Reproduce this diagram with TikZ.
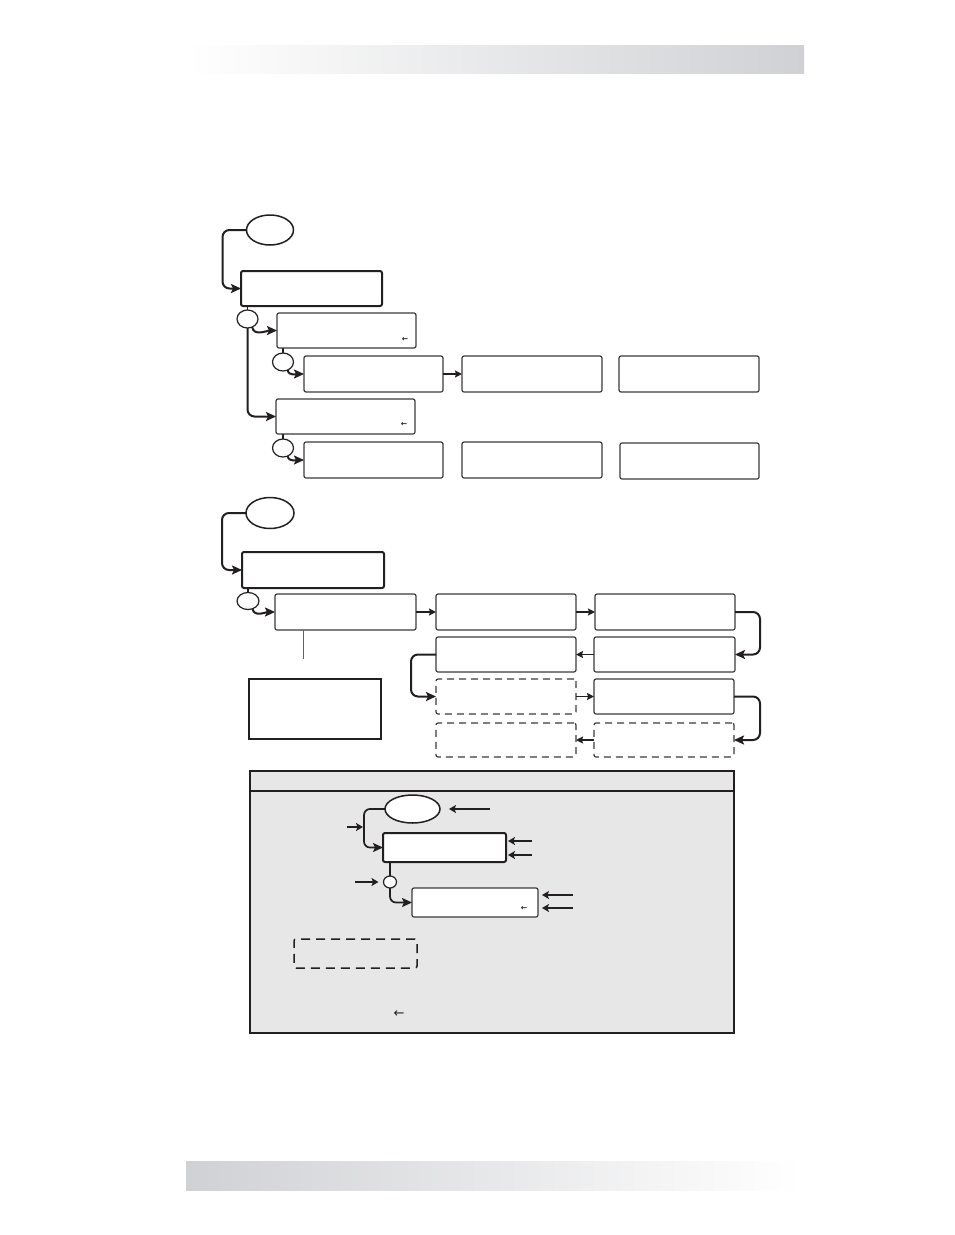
\documentclass[tikz,border=0pt]{standalone}
\usepackage{fontspec}
\newfontfamily\symfont{DejaVu Sans}
\usetikzlibrary{arrows.meta,shapes.geometric}
\definecolor{ink}{RGB}{35,31,32}
\definecolor{edge}{RGB}{60,58,58}
\definecolor{panel}{RGB}{230,231,230}
\definecolor{band}{RGB}{208,209,212}
\newcommand\mybox[6]{\node[#1, minimum width={(#5-#3)*1pt}, minimum height={(#6-#4)*1pt}] (#2) at ({(#3+#5)/2},{(#4+#6)/2}) {};}
\begin{document}
\begin{tikzpicture}[x=1pt,y=-1pt,
  box/.style={draw=edge, line width=1.2pt, rounded corners=2pt, fill=white, inner sep=0pt, outer sep=0pt},
  boldbox/.style={box, line width=2pt, draw=ink},
  dbox/.style={box, dash pattern=on 7pt off 5pt},
  legdbox/.style={draw=ink, line width=1.5pt, rounded corners=2pt, dash pattern=on 9pt off 6pt, fill=panel, inner sep=0pt, outer sep=0pt},
  plainbox/.style={draw=ink, line width=1.2pt, inner sep=0pt, outer sep=0pt, fill=white},
  oval/.style={ellipse, draw=ink, line width=1.5pt, fill=white, inner sep=0pt, outer sep=0pt},
  knot/.style={ellipse, draw=ink, line width=1.2pt, fill=white, inner sep=0pt, outer sep=0pt},
  conn/.style={draw=ink, line width=2pt, rounded corners=7pt, -{Stealth[length=10pt,width=9pt,inset=2pt]}},
  sconn/.style={draw=ink, line width=1.8pt, -{Stealth[length=7pt,width=7pt,inset=1pt]}},
  link/.style={draw=ink, line width=1.5pt},
  ptr/.style={draw=ink, line width=1.2pt, -{Stealth[length=7pt,width=8pt,inset=1.5pt]}},
  glyph/.style={inner sep=0pt, font=\symfont\bfseries\fontsize{7.5}{8}\selectfont, text=ink}
]
\useasboundingbox (0,0) rectangle (954,1235);
% header and footer bands
\shade[left color=white, right color=band] (187,45) rectangle (804,73);
\shade[left color=band, right color=white] (186,1161) rectangle (800,1190);

% ---------- section 1 ----------
\node[oval, minimum width=47pt, minimum height=30pt] (e1) at (270,230) {};
\mybox{boldbox}{b1}{241}{271}{382}{306}
\node[knot, minimum width=21pt, minimum height=18pt] (c1) at (247.5,319) {};
\mybox{box}{b2}{277}{313}{416}{348}
\node[glyph] (g1) at (405,339) {←};
\node[knot, minimum width=21pt, minimum height=18pt] (c2) at (283,362) {};
\mybox{box}{b3}{304}{356}{443}{392}
\mybox{box}{b3b}{462}{356}{602}{392}
\mybox{box}{b3c}{619}{356}{759}{392}
\mybox{box}{b4}{276}{399}{415}{434}
\node[glyph] (g2) at (404,424) {←};
\node[knot, minimum width=21pt, minimum height=18pt] (c3) at (283,448) {};
\mybox{box}{b5}{304}{442}{443}{478}
\mybox{box}{b5b}{462}{442}{602}{478}
\mybox{box}{b5c}{620}{443}{759}{479}

\draw[conn] (e1.west) -- ++(-24,0) |- (b1.west);
\draw[link] (c1.north) -- (c1.north |- b1.south);
\draw[conn] (c1.-60) to[out=-80,in=180] (b2.west);
\draw[conn] (c1.south) |- (b4.west);
\draw[link] (c2.north) -- (c2.north |- b2.south);
\draw[conn] (c2.-60) to[out=-80,in=180] (b3.west);
\draw[sconn] (b3.east) -- (b3b.west);
\draw[link] (c3.north) -- (c3.north |- b4.south);
\draw[conn] (c3.-60) to[out=-80,in=180] (b5.west);

% ---------- section 2 ----------
\node[oval, minimum width=48pt, minimum height=31pt] (e2) at (270,513) {};
\mybox{boldbox}{b6}{242}{552}{384}{588}
\node[knot, minimum width=22pt, minimum height=17pt] (c4) at (248,601) {};
\mybox{box}{b7}{275}{594}{416}{630}
\coordinate (t7) at (303,659);
\mybox{plainbox}{b8}{249}{679}{381}{739}
\mybox{box}{gA}{436}{594}{576}{630}
\mybox{box}{gB}{595}{594}{735}{630}
\mybox{box}{gC}{436}{637}{576}{672}
\mybox{box}{gD}{594}{637}{735}{672}
\mybox{dbox}{gE}{436}{679}{576}{714}
\mybox{box}{gF}{594}{679}{734}{714}
\mybox{dbox}{gG}{436}{723}{576}{757}
\mybox{dbox}{gH}{594}{723}{734}{757}

\draw[conn] (e2.west) -- ++(-24,0) |- (b6.west);
\draw[link] (c4.north) -- (c4.north |- b6.south);
\draw[conn] (c4.-60) to[out=-80,in=180] (b7.west);
\draw[draw=edge!80, line width=1pt] (t7 |- b7.south) -- (t7);
\draw[sconn, line width=2.4pt] (b7.east) -- (gA.west);
\draw[sconn, line width=1.7pt] (gA.east) -- (gB.west);
\draw[conn] (gB.east) -- ++(25,0) |- (gD.east);
\draw[sconn, line width=1.7pt] (gD.west) -- (gC.east);
\draw[conn] (gC.west) -- ++(-25,0) |- (gE.west);
\draw[sconn, line width=1.7pt] (gE.east) -- (gF.west);
\draw[conn] (gF.east) -- ++(26,0) |- (gH.east);
\draw[sconn, line width=1.7pt] (gH.west) -- (gG.east);

% ---------- legend ----------
\draw[draw=ink, line width=2pt, fill=panel] (250,771) rectangle (734,1033);
\draw[draw=ink, line width=1.5pt] (250,791) -- (734,791);
\node[oval, minimum width=55pt, minimum height=28pt] (e3) at (412.5,809) {};
\mybox{boldbox}{L1}{383}{833}{506}{862}
\node[knot, minimum width=13pt, minimum height=12pt] (c5) at (390,882) {};
\mybox{box}{L2}{412}{888}{538}{917}
\node[glyph] (g3) at (524,908) {←};
\mybox{legdbox}{L3}{294}{939}{417}{968}
\node[glyph, font=\symfont\fontsize{13}{14}\selectfont] (g4) at (399,1014) {←};

\draw[conn, line width=1.7pt, rounded corners=6pt] (e3.west) -- ++(-21,0) |- (L1.west);
\draw[link] (c5.north) -- (c5.north |- L1.south);
\draw[conn, line width=1.7pt, rounded corners=6pt] (c5.south) |- (L2.west);

\coordinate (p1) at (490,809);
\draw[ptr, shorten >=9pt] (p1) -- (e3.east);
\coordinate (p2) at (347,827);
\coordinate (q2) at (363,827);
\draw[ptr] (p2) -- (q2);
\coordinate (p3) at (532,841);
\coordinate (p4) at (532,855);
\draw[ptr, shorten >=2pt] (p3) -- (p3 -| L1.east);
\draw[ptr, shorten >=2pt] (p4) -- (p4 -| L1.east);
\coordinate (p5) at (355,882);
\draw[ptr, shorten >=5pt] (p5) -- (c5.west);
\coordinate (p6) at (573,895);
\coordinate (p7) at (573,908);
\draw[ptr, shorten >=4pt] (p6) -- (p6 -| L2.east);
\draw[ptr, shorten >=4pt] (p7) -- (p7 -| L2.east);
\end{tikzpicture}
\end{document}
